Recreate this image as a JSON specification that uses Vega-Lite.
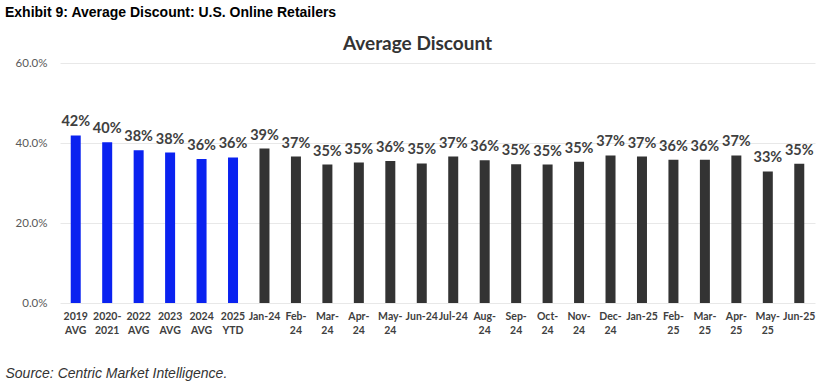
{
  "$schema": "https://vega.github.io/schema/vega-lite/v6.json",
  "width": 820,
  "height": 385,
  "autosize": {"type": "fit", "contains": "padding"},
  "padding": {"left": 5, "right": 5, "top": 6, "bottom": 5},
  "background": "white",
  "title": {
    "text": "Exhibit 9: Average Discount: U.S. Online Retailers",
    "anchor": "start",
    "frame": "bounds",
    "font": "Liberation Sans",
    "fontSize": 14,
    "fontWeight": "bold",
    "color": "#000000",
    "offset": 14
  },
  "config": {"view": {"stroke": null}},
  "data": {
    "values": [
      {"period": "2019 AVG", "group": "Annual", "discount": 0.419},
      {"period": "2020-2021", "group": "Annual", "discount": 0.402},
      {"period": "2022 AVG", "group": "Annual", "discount": 0.382},
      {"period": "2023 AVG", "group": "Annual", "discount": 0.376},
      {"period": "2024 AVG", "group": "Annual", "discount": 0.360},
      {"period": "2025 YTD", "group": "Annual", "discount": 0.364},
      {"period": "Jan-24", "group": "Monthly", "discount": 0.386},
      {"period": "Feb-24", "group": "Monthly", "discount": 0.366},
      {"period": "Mar-24", "group": "Monthly", "discount": 0.346},
      {"period": "Apr-24", "group": "Monthly", "discount": 0.351},
      {"period": "May-24", "group": "Monthly", "discount": 0.355},
      {"period": "Jun-24", "group": "Monthly", "discount": 0.349},
      {"period": "Jul-24", "group": "Monthly", "discount": 0.366},
      {"period": "Aug-24", "group": "Monthly", "discount": 0.357},
      {"period": "Sep-24", "group": "Monthly", "discount": 0.347},
      {"period": "Oct-24", "group": "Monthly", "discount": 0.346},
      {"period": "Nov-24", "group": "Monthly", "discount": 0.353},
      {"period": "Dec-24", "group": "Monthly", "discount": 0.369},
      {"period": "Jan-25", "group": "Monthly", "discount": 0.366},
      {"period": "Feb-25", "group": "Monthly", "discount": 0.358},
      {"period": "Mar-25", "group": "Monthly", "discount": 0.358},
      {"period": "Apr-25", "group": "Monthly", "discount": 0.369},
      {"period": "May-25", "group": "Monthly", "discount": 0.329},
      {"period": "Jun-25", "group": "Monthly", "discount": 0.348}
    ]
  },
  "encoding": {
    "x": {
      "field": "period",
      "type": "nominal",
      "sort": null,
      "scale": {"paddingInner": 0.68, "paddingOuter": 0.34},
      "axis": {
        "orient": "bottom",
        "labelAngle": 0,
        "labelExpr": "test(/ /, datum.label) ? split(datum.label, ' ') : (indexof(['Jan-24','Jun-24','Jul-24','Jan-25','Jun-25'], datum.label) >= 0 ? datum.label : split(replace(datum.label, '-', '-|'), '|'))",
        "labelFont": "Lato",
        "labelFontSize": 10.5,
        "labelFontWeight": "bold",
        "labelColor": "#404040",
        "labelLineHeight": 14,
        "labelPadding": 8,
        "ticks": false,
        "domain": false,
        "title": "Source: Centric Market Intelligence.",
        "titleFont": "Liberation Sans",
        "titleFontStyle": "italic",
        "titleFontWeight": "normal",
        "titleFontSize": 14,
        "titleColor": "#333333",
        "titleAnchor": "start",
        "titleAlign": "left",
        "titleBaseline": "middle",
        "titleX": -55,
        "titleY": 70
      }
    },
    "y": {
      "field": "discount",
      "type": "quantitative",
      "scale": {"domain": [0, 0.6]},
      "axis": {
        "values": [0, 0.2, 0.4, 0.6],
        "format": ".1%",
        "title": null,
        "domain": false,
        "ticks": false,
        "gridColor": "#e8e8e8",
        "labelFont": "Lato",
        "labelFontSize": 11.5,
        "labelColor": "#595959",
        "labelPadding": 13,
        "minExtent": 55,
        "maxExtent": 55
      }
    }
  },
  "layer": [
    {
      "mark": {"type": "bar", "size": 10},
      "encoding": {
        "color": {
          "field": "group",
          "type": "nominal",
          "scale": {"domain": ["Annual", "Monthly"], "range": ["#0A22F0", "#333333"]},
          "legend": null
        }
      }
    },
    {
      "mark": {"type": "text", "baseline": "bottom", "dy": -6, "font": "Lato", "fontSize": 14.5, "fontWeight": "bold", "color": "#404040"},
      "encoding": {
        "text": {"field": "discount", "type": "quantitative", "format": ".0%"},
        "x": {
          "field": "period",
          "type": "nominal",
          "sort": null,
          "axis": {
            "orient": "top",
            "labels": false,
            "ticks": false,
            "domain": false,
            "grid": false,
            "title": "Average Discount",
            "titleFont": "Lato",
            "titleFontSize": 19,
            "titleFontWeight": "bold",
            "titleColor": "#333333",
            "titleAnchor": "middle",
            "titleAlign": "center",
            "titleX": 357,
            "titlePadding": 10
          }
        }
      }
    }
  ]
}
